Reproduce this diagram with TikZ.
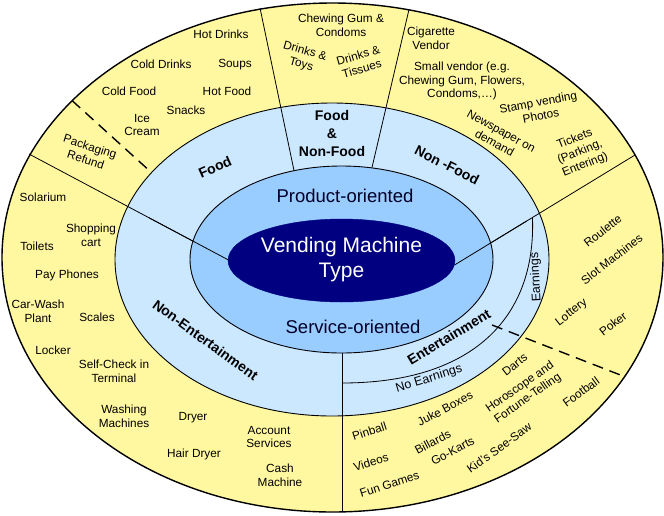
\documentclass[tikz,border=0pt]{standalone}
\usepackage{fontspec}
\setmainfont{Liberation Sans}
\usetikzlibrary{calc}
\definecolor{yellowfill}{RGB}{255,248,160}
\definecolor{lightblue}{RGB}{204,232,255}
\definecolor{medblue}{RGB}{153,204,255}
\definecolor{navyfill}{RGB}{0,0,128}
\begin{document}
\begin{tikzpicture}[x=1pt,y=-1pt,
  item/.style={font=\fontsize{11.8}{13.8}\selectfont, align=center, inner sep=0pt, text=black},
  bolditem/.style={font=\fontsize{14}{18}\selectfont\bfseries, align=center, inner sep=0pt, text=black},
  earn/.style={font=\fontsize{12.5}{14}\selectfont, align=center, inner sep=0pt, text=black},
  ring/.style={draw=black, line width=0.9pt},
  divider/.style={draw=black, line width=0.8pt},
  dashdiv/.style={draw=black, line width=1.4pt, dash pattern=on 11pt off 7pt}]
\useasboundingbox (0,0) rectangle (664,515);
% ellipses
\draw[fill=yellowfill, draw=black, line width=1.4pt] (332.5,257.5) ellipse [x radius=330.5pt, y radius=254.5pt];
\draw[ring, fill=lightblue] (332,259.5) ellipse [x radius=217pt, y radius=156.5pt];
% named end points
\coordinate (t1o) at (260,8);
\coordinate (t1i) at (294,170.5);
\coordinate (t2o) at (409,9.5);
\coordinate (t2i) at (372,167.5);
\coordinate (lo) at (29,154);
\coordinate (li) at (228.5,260);
\coordinate (ro) at (635,155);
\coordinate (ri) at (454.5,265);
\coordinate (bi) at (342,353);
\coordinate (bo) at (342,512);
\coordinate (dlo) at (72,100.5);
\coordinate (dli) at (152,173);
\coordinate (dri) at (492,325);
\coordinate (dro) at (623,376);
\coordinate (ea) at (532.5,218);
\coordinate (eb) at (342,383);
% dividers
\draw[divider] (t1o) -- (t1i);
\draw[divider] (t2o) -- (t2i);
\draw[divider] (bi) -- (bo);
\draw[divider] (lo) -- (li);
\draw[divider] (ro) -- (ri);
\draw[ring, fill=medblue] (341.5,259.5) ellipse [x radius=151.5pt, y radius=93.5pt];
\draw[divider] ($(lo)!0.6!(li)$) -- (li);
\draw[divider] ($(ro)!0.6!(ri)$) -- (ri);
\draw[draw=navyfill, fill=navyfill] (341.5,260.5) ellipse [x radius=113.5pt, y radius=41.5pt];
\draw[divider] (ea) .. controls (536,320) and (470,383) .. (eb);
\draw[dashdiv] (dlo) -- (dli);
\draw[dashdiv] (dri) -- (dro);
% centre texts
\node[font=\fontsize{21}{25}\selectfont, text=white, align=center, inner sep=0pt] (vmt) at (341.5,260) {Vending Machine\\Type};
\node[font=\fontsize{18.5}{20}\selectfont, text=black!85!blue, inner sep=0pt] (prod) at (345,196) {Product-oriented};
\node[font=\fontsize{18.5}{20}\selectfont, text=black!85!blue, inner sep=0pt] (serv) at (353,327) {Service-oriented};
% category labels
\node[bolditem, rotate=24] (food) at (215,167) {Food};
\node[bolditem] (fnf) at (332,133) {Food\\\&\\Non-Food};
\node[bolditem, rotate=-27] (nonfood) at (447,165) {Non -Food};
\node[bolditem, rotate=-36] (nonent) at (205.5,340) {Non-Entertainment};
\node[bolditem, rotate=31] (ent) at (449,337) {Entertainment};
\node[earn, rotate=93] (earnings) at (536,277) {Earnings};
\node[earn, rotate=17] (noearn) at (429,379) {No Earnings};
% food items
\node[item] (hotdrinks) at (221,34) {Hot Drinks};
\node[item] (colddrinks) at (161,64) {Cold Drinks};
\node[item] (soups) at (235,65) {Soups};
\node[item] (coldfood) at (129,91) {Cold Food};
\node[item] (hotfood) at (227,91) {Hot Food};
\node[item] (snacks) at (186,110) {Snacks};
\node[item] (icecream) at (142,125) {Ice\\Cream};
\node[item, rotate=-18] (packaging) at (88,153) {Packaging\\Refund};
% food & non-food items
\node[item] (chewing) at (341,25) {Chewing Gum \&\\Condoms};
\node[item, rotate=-16] (toys) at (303,58) {Drinks \&\\Toys};
\node[item, rotate=16] (tissues) at (360,62) {Drinks \&\\Tissues};
% non-food items
\node[item] (cigarette) at (431,38) {Cigarette\\Vendor};
\node[item] (smallvendor) at (462,81) {Small vendor (e.g.\\Chewing Gum, Flowers,\\Condoms,…)};
\node[item, rotate=11] (stamp) at (539.5,109) {Stamp vending\\Photos};
\node[item, rotate=-29] (newspaper) at (498,137) {Newspaper on\\demand};
\node[item, rotate=22] (tickets) at (580,152) {Tickets\\(Parking,\\Entering)};
% earnings items
\node[item, rotate=38] (roulette) at (602.7,230.7) {Roulette};
\node[item, rotate=38] (slot) at (611.7,259.3) {Slot Machines};
\node[item, rotate=38] (lottery) at (571.7,312.7) {Lottery};
\node[item, rotate=38] (poker) at (613,324) {Poker};
% no earnings items
\node[item, rotate=18] (pinball) at (369.5,431) {Pinball};
\node[item, rotate=17] (videos) at (371,462) {Videos};
\node[item, rotate=18] (fungames) at (389.5,484) {Fun Games};
\node[item, rotate=28] (juke) at (445,408.7) {Juke Boxes};
\node[item, rotate=28] (billards) at (432.7,442) {Billards};
\node[item, rotate=28] (gokarts) at (452.7,451) {Go-Karts};
\node[item, rotate=38] (darts) at (514.7,364.7) {Darts};
\node[item, rotate=35] (horoscope) at (524,393) {Horoscope and\\Fortune-Telling};
\node[item, rotate=36] (kids) at (499,448) {Kid's See-Saw};
\node[item, rotate=36] (football) at (581,392) {Football};
% non-entertainment items
\node[item] (solarium) at (43,197) {Solarium};
\node[item] (shopping) at (91,235) {Shopping\\cart};
\node[item] (toilets) at (37,246) {Toilets};
\node[item] (payphones) at (67,275) {Pay Phones};
\node[item] (carwash) at (38,311) {Car-Wash\\Plant};
\node[item] (scales) at (97,317) {Scales};
\node[item] (locker) at (53,350) {Locker};
\node[item] (selfcheck) at (114,371) {Self-Check in\\Terminal};
\node[item] (washing) at (124,416) {Washing\\Machines};
\node[item] (dryer) at (193,418) {Dryer};
\node[item] (account) at (269,437) {Account\\Services};
\node[item] (hairdryer) at (194,454) {Hair Dryer};
\node[item] (cash) at (280,475) {Cash\\Machine};
\end{tikzpicture}
\end{document}
